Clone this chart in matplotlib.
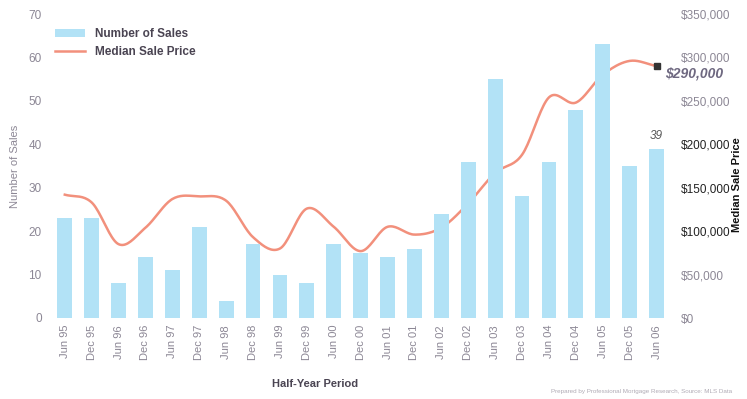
import numpy as np
import matplotlib
matplotlib.use('Agg')
import matplotlib.pyplot as plt
from matplotlib.ticker import FuncFormatter

plt.rcParams['font.family'] = ['Liberation Sans', 'DejaVu Sans']

periods = ['Jun 95', 'Dec 95', 'Jun 96', 'Dec 96', 'Jun 97', 'Dec 97', 'Jun 98',
           'Dec 98', 'Jun 99', 'Dec 99', 'Jun 00', 'Dec 00', 'Jun 01', 'Dec 01',
           'Jun 02', 'Dec 02', 'Jun 03', 'Dec 03', 'Jun 04', 'Dec 04', 'Jun 05',
           'Dec 05', 'Jun 06']
sales = [23, 23, 8, 14, 11, 21, 4, 17, 10, 8, 17, 15, 14, 16,
         24, 36, 55, 28, 36, 48, 63, 35, 39]
median_price = [142000, 133000, 85000, 104000, 137000, 140000, 135000, 93000,
                80000, 126000, 105000, 77000, 105000, 96000, 104000, 132000,
                167000, 188000, 254000, 248000, 280000, 296000, 290000]

price_ticks = [0, 50000, 100000, 150000, 200000, 250000, 300000, 350000]
price_tick_colors = ['#8c8795', '#8c8795', '#222222', '#222222', '#222222',
                     '#8c8795', '#8c8795', '#8c8795']

BAR = '#b2e2f6'
LINE = '#f2907c'
GREY = '#8c8795'
DARK = '#4a4452'


def smooth(xs, ys, steps=20):
    # catmull-rom pass through the points so the price line bends smoothly
    xs = np.asarray(xs, float)
    ys = np.asarray(ys, float)
    px = np.concatenate([[2 * xs[0] - xs[1]], xs, [2 * xs[-1] - xs[-2]]])
    py = np.concatenate([[2 * ys[0] - ys[1]], ys, [2 * ys[-1] - ys[-2]]])
    out_x, out_y = [], []
    t = np.linspace(0, 1, steps, endpoint=False)
    for i in range(1, len(px) - 2):
        for p, out in ((px, out_x), (py, out_y)):
            p0, p1, p2, p3 = p[i - 1], p[i], p[i + 1], p[i + 2]
            out.extend(0.5 * (2 * p1 + (-p0 + p2) * t
                              + (2 * p0 - 5 * p1 + 4 * p2 - p3) * t ** 2
                              + (-p0 + 3 * p1 - 3 * p2 + p3) * t ** 3))
    out_x.append(xs[-1])
    out_y.append(ys[-1])
    return out_x, out_y


fig = plt.figure(figsize=(7.47, 3.99), dpi=100)
ax = fig.add_axes([50 / 747, 81 / 399, 620 / 747, 304 / 399])
ax2 = ax.twinx()

x = np.arange(len(periods))
bars = ax.bar(x, sales, width=0.55, color=BAR, label='Number of Sales', zorder=1)
ax.set_xlim(-0.55, len(periods) - 0.5)
ax.set_ylim(0, 70)
ax.set_yticks(range(0, 71, 10))
ax.set_xticks(x)
ax.set_xticklabels(periods, rotation=90, fontsize=8, color=GREY)
ax.tick_params(axis='both', length=0, pad=5)
ax.tick_params(axis='y', labelsize=8.5, labelcolor=GREY, pad=6)
ax.set_ylabel('Number of Sales', fontsize=8, color=GREY, labelpad=6)
ax.set_xlabel('Half-Year Period', fontsize=8, color=DARK, fontweight='bold')
ax.xaxis.set_label_coords(0.428, -0.2)

sx, sy = smooth(x, median_price)
line, = ax2.plot(sx, sy, color=LINE, lw=1.8, label='Median Sale Price', zorder=3)
ax2.plot(x[-1], median_price[-1], marker='s', ms=4, color='#333333', zorder=4)
ax2.set_ylim(0, 350000)
ax2.set_yticks(price_ticks)
ax2.yaxis.set_major_formatter(FuncFormatter(lambda v, _: f'${v:,.0f}'))
ax2.tick_params(axis='y', length=0, pad=8, labelsize=8.5)
for lab, c in zip(ax2.get_yticklabels(), price_tick_colors):
    lab.set_color(c)
ax2.set_ylabel('Median Sale Price', fontsize=8, fontweight='bold', color='#111111')
ax2.yaxis.set_label_coords(1.1, 0.44)

ax.text(x[-1], sales[-1] + 1.5, str(sales[-1]), ha='center', va='bottom',
        fontsize=8.5, fontstyle='italic', color='#555555')
ax2.text(x[-1] + 0.3, median_price[-1], f'${median_price[-1]:,}', ha='left',
         va='top', fontsize=10, fontstyle='italic', fontweight='bold', color='#6e6880')

for a in (ax, ax2):
    for s in a.spines.values():
        s.set_visible(False)

leg = ax.legend([bars, line], ['Number of Sales', 'Median Sale Price'],
                loc='upper left', bbox_to_anchor=(0.0, 0.97), frameon=False,
                fontsize=8.5, handlelength=2.6, labelspacing=0.55, borderaxespad=0)
for t in leg.get_texts():
    t.set_fontweight('bold')
    t.set_color(DARK)
leg.set_zorder(5)
ax.set_zorder(ax2.get_zorder() + 1)
ax.patch.set_visible(False)

fig.text(0.98, 0.012, 'Prepared by Professional Mortgage Research, Source: MLS Data',
         ha='right', va='bottom', fontsize=4.5, color='#b0abb5')

fig.savefig('out.png', dpi=100)
